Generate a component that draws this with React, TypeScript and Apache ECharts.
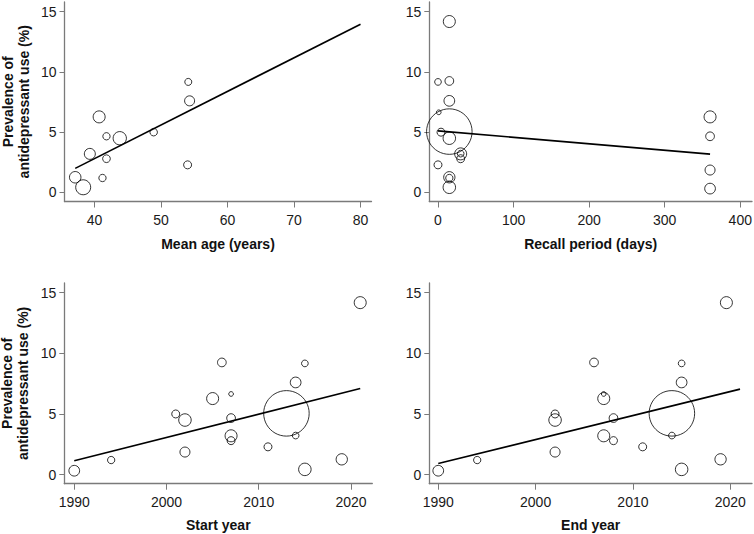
import React, { useEffect, useRef } from "react";
import * as echarts from "echarts";

// ---- data (19 studies) ----
const prevalence = [0.32, 1.2, 5.0, 4.5, 1.86, 6.27, 9.25, 6.65, 4.66, 3.2, 2.8, 2.29, 5.05, 7.6, 3.22, 9.17, 0.43, 1.26, 14.18];
const studyWeight = [10.7, 7.3, 8, 12.5, 10, 12, 8.7, 4.7, 8.7, 12, 8, 8, 45.5, 10.7, 6.7, 6.7, 12.5, 11.3, 12];
const meanAge = [null, 41.2, 48.9, 43.8, null, 40.7, null, null, 41.8, 39.3, 41.8, 54.0, null, 54.3, null, 54.1, 38.3, 37.1, null];
const ageWeight = [null, 7.3, 7.5, 13.3, null, 12, null, null, 7.3, 11, 7.7, 8, null, 10, null, 7, 15, 11.5, null];
const recallDays = [360, 15, 4, 15, 360, 360, 15, 1, 360, 30, 30, 0, 15, 15, 30, 0, 15, 15, 15];
const startYear = [1990, 1994, 2001, 2002, 2002, 2005, 2006, 2007, 2007, 2007, 2007, 2011, 2013, 2014, 2014, 2015, 2015, 2019, 2021];
const endYear = [1990, 1994, 2002, 2002, 2002, 2007, 2006, 2007, 2008, 2007, 2008, 2011, 2014, 2015, 2014, 2015, 2015, 2019, 2019.6];

// meta-regression fitted lines (endpoints)
const ageFitX = [37.1, 80];
const ageFitY = [2.0, 13.96];
const recallFitX = [0, 360];
const recallFitY = [5.11, 3.18];
const startFitX = [1990, 2021];
const startFitY = [1.14, 7.1];
const endFitX = [1990, 2021];
const endFitY = [0.91, 7.05];

// tick labels
const yTicks = [0, 5, 10, 15];
const ageTicks = [40, 50, 60, 70, 80];
const recallTicks = [0, 100, 200, 300, 400];
const yearTicks = [1990, 2000, 2010, 2020];

const FONT = 'Arial, "Liberation Sans", Helvetica, sans-serif';
const AXIS_GREY = "#7a7a7a";

function points(xs: (number | null)[], sizes: (number | null)[]) {
  const out: number[][] = [];
  xs.forEach((x, i) => {
    if (x != null && sizes[i] != null) out.push([x, prevalence[i], sizes[i] as number]);
  });
  return out;
}

function fit(xs: number[], ys: number[]) {
  return xs.map((x, i) => [x, ys[i]]);
}

function xAxisDef(idx: number, min: number, max: number, ticks: number[], name: string, gap: number) {
  return {
    type: "value",
    gridIndex: idx,
    min,
    max,
    name,
    nameLocation: "middle",
    nameGap: gap,
    nameTextStyle: { fontFamily: FONT, fontSize: 14, fontWeight: "bold", color: "#111" },
    axisLine: { show: true, onZero: false, lineStyle: { color: AXIS_GREY, width: 1.3 } },
    axisTick: { show: true, length: 6, customValues: ticks, lineStyle: { color: AXIS_GREY, width: 1 } },
    axisLabel: {
      show: true,
      customValues: ticks,
      margin: 11,
      fontFamily: FONT,
      fontSize: 14,
      color: "#1a1a1a",
      formatter: (v: number) => String(v),
    },
    splitLine: { show: false },
  };
}

function yAxisDef(idx: number, withName: boolean) {
  return {
    type: "value",
    gridIndex: idx,
    min: -0.75,
    max: 15.8,
    name: withName ? "Prevalence of\nantidepressant use (%)" : "",
    nameLocation: "middle",
    nameGap: 33,
    nameTextStyle: { fontFamily: FONT, fontSize: 14, fontWeight: "bold", color: "#111", lineHeight: 16 },
    axisLine: { show: true, onZero: false, lineStyle: { color: AXIS_GREY, width: 1.3 } },
    axisTick: { show: true, length: 5, customValues: yTicks, lineStyle: { color: AXIS_GREY, width: 1 } },
    axisLabel: {
      show: true,
      customValues: yTicks,
      margin: 8,
      fontFamily: FONT,
      fontSize: 14,
      color: "#1a1a1a",
      formatter: (v: number) => String(v),
    },
    splitLine: { show: false },
  };
}

function scatterSeries(idx: number, data: number[][]) {
  return {
    type: "scatter",
    xAxisIndex: idx,
    yAxisIndex: idx,
    data,
    symbol: "circle",
    symbolSize: (v: number[]) => v[2],
    itemStyle: { color: "rgba(255,255,255,0)", borderColor: "#000", borderWidth: 1 },
    emphasis: { disabled: true },
    z: 2,
  };
}

function lineSeries(idx: number, data: number[][]) {
  return {
    type: "line",
    xAxisIndex: idx,
    yAxisIndex: idx,
    data,
    showSymbol: false,
    symbol: "none",
    lineStyle: { color: "#000", width: 1.6 },
    z: 3,
  };
}

export default function App() {
  const ref = useRef<HTMLDivElement>(null);

  useEffect(() => {
    if (!ref.current) return;
    const chart = echarts.init(ref.current, null, { renderer: "svg" });
    chart.setOption({
      animation: false,
      backgroundColor: "#fff",
      grid: [
        { left: 64.5, top: 2, width: 307, height: 199.5, outerBoundsMode: "none" },
        { left: 429.3, top: 2, width: 322.7, height: 199.5, outerBoundsMode: "none" },
        { left: 64.3, top: 283, width: 308, height: 200.7, outerBoundsMode: "none" },
        { left: 429.3, top: 283, width: 322.7, height: 200.7, outerBoundsMode: "none" },
      ],
      xAxis: [
        xAxisDef(0, 35.49, 81.65, ageTicks, "Mean age (years)", 35),
        xAxisDef(1, -11.5, 415.5, recallTicks, "Recall period (days)", 35),
        xAxisDef(2, 1988.92, 2022.31, yearTicks, "Start year", 34),
        xAxisDef(3, 1989.08, 2022.23, yearTicks, "End year", 34),
      ],
      yAxis: [yAxisDef(0, true), yAxisDef(1, false), yAxisDef(2, true), yAxisDef(3, false)],
      series: [
        scatterSeries(0, points(meanAge, ageWeight)),
        lineSeries(0, fit(ageFitX, ageFitY)),
        scatterSeries(1, points(recallDays, studyWeight)),
        lineSeries(1, fit(recallFitX, recallFitY)),
        scatterSeries(2, points(startYear, studyWeight)),
        lineSeries(2, fit(startFitX, startFitY)),
        scatterSeries(3, points(endYear, studyWeight)),
        lineSeries(3, fit(endFitX, endFitY)),
      ],
    });
    return () => chart.dispose();
  }, []);

  return (
    <div
      ref={ref}
      style={{ position: "absolute", left: 0, top: 0, width: 754, height: 534, background: "#fff" }}
    />
  );
}
